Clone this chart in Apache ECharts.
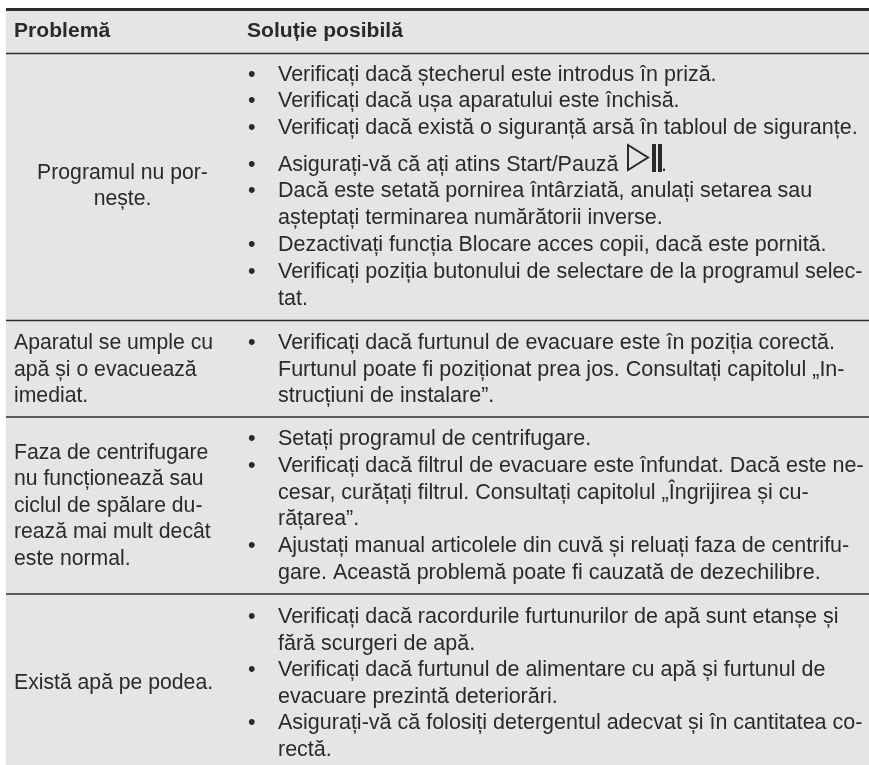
<!DOCTYPE html>
<html><head><meta charset="utf-8">
<style>html,body{margin:0;padding:0;background:#fff}#c{width:869px;height:765px}</style>
<script src="https://cdn.jsdelivr.net/npm/echarts@6/dist/echarts.min.js"></script>
</head><body><div id="c"></div>
<script>
const headers = ["Problemă", "Soluție posibilă"];
const problems = [
  ["Programul nu por-", "nește."],
  ["Aparatul se umple cu", "apă și o evacuează", "imediat."],
  ["Faza de centrifugare", "nu funcționează sau", "ciclul de spălare du-", "rează mai mult decât", "este normal."],
  ["Există apă pe podea."]
];
const solutions = [
  [["Verificați dacă ștecherul este introdus în priză."],
   ["Verificați dacă ușa aparatului este închisă."],
   ["Verificați dacă există o siguranță arsă în tabloul de siguranțe."],
   ["Asigurați-vă că ați atins Start/Pauză"],
   ["Dacă este setată pornirea întârziată, anulați setarea sau","așteptați terminarea numărătorii inverse."],
   ["Dezactivați funcția Blocare acces copii, dacă este pornită."],
   ["Verificați poziția butonului de selectare de la programul selec-","tat."]],
  [["Verificați dacă furtunul de evacuare este în poziția corectă.","Furtunul poate fi poziționat prea jos. Consultați capitolul „In-","strucțiuni de instalare”."]],
  [["Setați programul de centrifugare."],
   ["Verificați dacă filtrul de evacuare este înfundat. Dacă este ne-","cesar, curățați filtrul. Consultați capitolul „Îngrijirea și cu-","rățarea”."],
   ["Ajustați manual articolele din cuvă și reluați faza de centrifu-","gare. Această problemă poate fi cauzată de dezechilibre."]],
  [["Verificați dacă racordurile furtunurilor de apă sunt etanșe și","fără scurgeri de apă."],
   ["Verificați dacă furtunul de alimentare cu apă și furtunul de","evacuare prezintă deteriorări."],
   ["Asigurați-vă că folosiți detergentul adecvat și în cantitatea co-","rectă."]]
];
const bulletRows = [
  [75,101.5,128,165,191.5,245,272],
  [343],[439,466,546],[617,670.5,723.5]
];
const rowLines = [53.5, 320.5, 417, 594];
const probCY = [186, 370, 506, 683];
const fontLeft = '21.2px "Liberation Sans", Arial, sans-serif';
const fontRight = '21.5px "Liberation Sans", Arial, sans-serif';
const bold = 'bold 21.1px "Liberation Sans", Arial, sans-serif';
const color = '#2a2a2a';
const LH = 26.6;

const g = [];
g.push({type:'rect',shape:{x:6,y:9,width:863,height:756},style:{fill:'#e4e5e7'},z:0});
function line(y,w){g.push({type:'rect',shape:{x:6,y:y-w/2,width:863,height:w},style:{fill:'#2e2e2e'},z:1});}
line(9.5,3); rowLines.forEach(y=>line(y,1.5));
function text(x,y,t,f,align){g.push({type:'text',x:x,y:y,z:2,style:{text:t,font:f,fill:color,textAlign:align||'left',textVerticalAlign:'middle'}});}
text(14,31,headers[0],bold);
text(247,31,headers[1],bold);
problems.forEach((ls,i)=>{
  const n=ls.length;
  ls.forEach((t,j)=>{
    const y=probCY[i]+(j-(n-1)/2)*LH;
    const centered = i==0;
    text(centered?122.5:14,y,t,fontLeft,centered?'center':'left');
  });
});
solutions.forEach((blocks,i)=>{
  blocks.forEach((ls,k)=>{
    const y0=bulletRows[i][k];
    text(248,y0,'•',fontRight);
    ls.forEach((t,j)=>text(278,y0+j*LH,t,fontRight));
  });
});
// Start/Pause icon
g.push({type:'polygon',shape:{points:[[628,145],[628,170],[648,157.5]]},style:{fill:'none',stroke:'#2a2a2a',lineWidth:2},z:2});
g.push({type:'rect',shape:{x:652,y:144,width:4,height:28},style:{fill:'#2a2a2a'},z:2});
g.push({type:'rect',shape:{x:658,y:144,width:4,height:28},style:{fill:'#2a2a2a'},z:2});
text(661,165,'.',fontRight);
const chart=echarts.init(document.getElementById('c'),null,{renderer:'canvas'});
chart.setOption({animation:false,graphic:{elements:g}});
</script></body></html>
